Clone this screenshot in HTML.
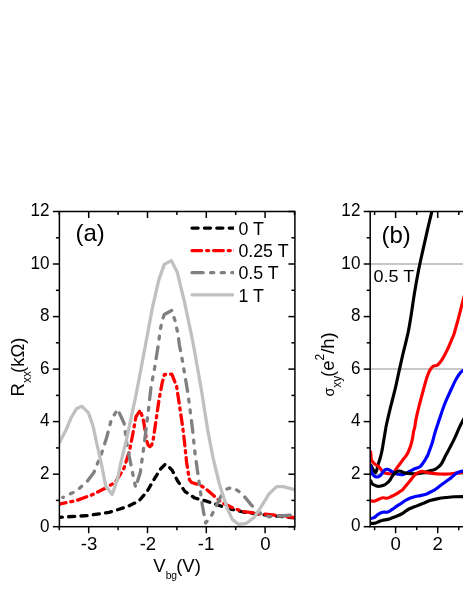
<!DOCTYPE html>
<html><head><meta charset="utf-8"><title>fig</title>
<style>html,body{margin:0;padding:0;background:#fff;}body{width:463px;height:599px;overflow:hidden;position:relative;font-family:"Liberation Sans",sans-serif;}</style></head>
<body>
<svg width="463" height="599" viewBox="0 0 463 599" style="position:absolute;left:0;top:0;will-change:transform">
<rect width="463" height="599" fill="#fff"/>
<clipPath id="ca"><rect x="59.4" y="211.5" width="235.49999999999997" height="315.20000000000005"/></clipPath>
<g clip-path="url(#ca)" fill="none" stroke-linejoin="round" stroke-linecap="round" stroke-width="3.3">
<path d="M59.4,517.3L87.4,515.6L109.0,512.4L126.3,507.0L138.6,501.3L147.0,491.6L154.5,478.6L160.2,469.4L164.8,464.7L166.5,464.4L172.1,470.2L177.5,480.8L185.1,491.6L194.8,498.0L203.4,500.2L216.4,504.5L229.4,508.8L243.2,512.0L260.5,514.5L275.6,516.0L295.2,518.0" stroke="#000" stroke-dasharray="6.1 6.3" stroke-dashoffset="3.2"/>
<path d="M56.5,504.7L59.4,504.1L76.6,500.5L91.7,495.0L104.7,488.6L115.5,482.1L124.1,468.0L129.5,450.8L133.0,433.0L136.0,416.7L140.3,410.2L143.6,421.0L146.6,440.5L148.2,445.2L150.0,446.6L151.7,445.0L153.2,439.5L155.5,424.2L158.9,400.5L162.1,383.2L164.3,374.6L171.8,374.1L176.6,386.4L179.4,404.8L182.6,426.4L184.3,440.0L186.6,462.4L189.4,479.7L191.6,482.5L200.2,485.1L207.8,490.5L216.4,498.0L221.6,502.4L232.4,507.8L243.2,511.6L260.5,513.8L275.6,515.3L295.2,517.7" stroke="#ff0000" stroke-dasharray="9.7 4.9 2.1 4.9"/>
<path d="M62.8,497.4L76.6,491.0L87.4,481.0L93.9,472.4L101.4,454.0L106.8,437.0L111.2,420.0L117.6,409.2L124.1,423.2L127.4,447.0L131.7,468.6L135.6,487.4L140.3,472.4L143.6,448.6L147.9,414.6L151.1,386.5L154.6,368.0L158.6,343.0L160.0,331.4L162.1,320.6L164.3,314.5L171.8,310.4L175.0,320.6L177.9,333.6L179.4,345.0L182.6,361.6L188.0,394.0L192.6,430.0L194.8,451.6L198.7,479.7L202.4,505.6L205.6,523.0L211.0,516.4L216.4,505.6L220.5,497.0L225.9,489.4L232.4,487.2L242.1,493.7L251.8,505.6L260.5,513.2L269.1,516.8L279.9,516.0L295.2,514.6" stroke="#808080" stroke-dasharray="12 7.8 3 7.8 3 7.8" stroke-dashoffset="11.4"/>
<path d="M59.4,442.6L66.0,430.0L71.0,418.0L76.6,408.5L82.0,406.3L88.5,412.8L93.0,426.0L96.0,440.0L101.0,462.0L105.8,486.4L112.2,494.4L117.6,478.9L121.0,462.0L126.4,440.0L136.2,394.0L145.5,345.0L152.4,307.6L158.9,279.6L164.3,264.4L171.2,260.6L177.2,272.0L184.8,303.3L192.9,342.0L201.0,387.5L207.7,430.0L213.1,458.1L219.4,484.0L227.0,507.8L232.4,519.6L238.9,524.4L246.4,523.3L254.0,517.5L260.5,507.8L269.1,493.7L276.7,486.6L283.2,486.6L295.2,489.8" stroke="#c0c0c0"/>
</g>
<g stroke="#000" stroke-width="1.5" fill="none" stroke-linecap="butt">
<rect x="59.4" y="211.5" width="235.49999999999997" height="315.20000000000005"/>
<path d="M52.9,526.7H59.4"/>
<path d="M288.4,526.7H294.9"/>
<path d="M55.9,500.4H59.4"/>
<path d="M291.4,500.4H294.9"/>
<path d="M52.9,474.2H59.4"/>
<path d="M288.4,474.2H294.9"/>
<path d="M55.9,447.9H59.4"/>
<path d="M291.4,447.9H294.9"/>
<path d="M52.9,421.6H59.4"/>
<path d="M288.4,421.6H294.9"/>
<path d="M55.9,395.4H59.4"/>
<path d="M291.4,395.4H294.9"/>
<path d="M52.9,369.1H59.4"/>
<path d="M288.4,369.1H294.9"/>
<path d="M55.9,342.8H59.4"/>
<path d="M291.4,342.8H294.9"/>
<path d="M52.9,316.6H59.4"/>
<path d="M288.4,316.6H294.9"/>
<path d="M55.9,290.3H59.4"/>
<path d="M291.4,290.3H294.9"/>
<path d="M52.9,264.0H59.4"/>
<path d="M288.4,264.0H294.9"/>
<path d="M55.9,237.8H59.4"/>
<path d="M291.4,237.8H294.9"/>
<path d="M52.9,211.5H59.4"/>
<path d="M288.4,211.5H294.9"/>
<path d="M59.3,526.7v3.5"/>
<path d="M59.3,211.5v3.5"/>
<path d="M88.7,526.7v6.5"/>
<path d="M88.7,211.5v6.5"/>
<path d="M118.1,526.7v3.5"/>
<path d="M118.1,211.5v3.5"/>
<path d="M147.5,526.7v6.5"/>
<path d="M147.5,211.5v6.5"/>
<path d="M176.9,526.7v3.5"/>
<path d="M176.9,211.5v3.5"/>
<path d="M206.3,526.7v6.5"/>
<path d="M206.3,211.5v6.5"/>
<path d="M235.7,526.7v3.5"/>
<path d="M235.7,211.5v3.5"/>
<path d="M265.1,526.7v6.5"/>
<path d="M265.1,211.5v6.5"/>
<path d="M294.5,526.7v3.5"/>
<path d="M294.5,211.5v3.5"/>
</g>
<clipPath id="cb"><rect x="370.2" y="211.5" width="100" height="315.20000000000005"/></clipPath>
<g stroke="#b4b4b4" stroke-width="1.5">
<path d="M370.2,474.2H463"/>
<path d="M370.2,369.1H463"/>
<path d="M370.2,264.0H463"/>
</g>
<g clip-path="url(#cb)" fill="none" stroke-linejoin="round" stroke-width="3.15">
<path d="M370.4,464.1C370.8,464.9 372.0,467.6 372.8,469.0C373.6,470.4 374.6,472.6 375.3,472.7C376.0,472.8 376.4,471.0 376.9,469.5C377.4,468.0 377.9,465.2 378.4,463.6C378.8,462.0 379.2,461.4 379.6,460.0C380.0,458.6 380.6,456.8 381.0,455.0C381.4,453.2 381.6,452.9 382.2,449.4C382.8,445.9 384.1,438.2 384.8,433.9C385.6,429.6 385.8,427.6 386.7,423.5C387.6,419.4 389.0,413.4 390.0,409.3C391.0,405.2 391.6,403.0 392.6,399.0C393.6,395.0 394.9,390.2 396.0,385.3C397.1,380.4 398.2,374.9 399.4,369.7C400.5,364.5 401.8,359.1 402.9,354.2C404.0,349.3 405.4,344.4 406.3,340.4C407.2,336.4 407.8,334.5 408.6,330.0C409.5,325.5 410.4,319.8 411.4,313.4C412.4,307.0 413.5,298.9 414.7,291.7C415.9,284.5 417.2,277.2 418.6,270.0C420.0,262.8 421.8,255.2 423.3,248.3C424.8,241.4 426.3,234.8 427.7,228.8C429.1,222.9 430.7,216.4 431.6,212.6C432.5,208.8 432.8,207.1 433.0,206.0" stroke="#000"/>
<path d="M370.4,450.7C370.5,451.4 370.7,453.4 370.9,455.0C371.1,456.6 370.8,458.7 371.5,460.2C372.2,461.7 373.6,463.0 374.9,464.1C376.2,465.2 378.0,466.0 379.2,467.1C380.4,468.2 380.9,469.7 381.8,470.6C382.7,471.5 383.4,472.2 384.4,472.7C385.4,473.2 386.8,473.5 387.9,473.6C389.0,473.8 390.1,474.0 391.3,473.6C392.5,473.2 393.7,472.2 394.8,471.0C395.9,469.8 396.9,468.0 398.2,466.2C399.5,464.4 401.3,461.9 402.6,460.2C403.9,458.5 405.1,457.3 406.0,455.9C406.9,454.5 407.4,453.8 408.2,452.0C409.0,450.2 410.2,447.4 410.9,445.0C411.6,442.6 412.2,440.1 412.6,437.8C413.1,435.5 413.2,433.0 413.6,431.3C414.0,429.6 414.3,429.6 414.7,427.4C415.1,425.2 415.5,421.5 416.2,418.3C416.9,415.1 417.8,411.4 418.6,408.0C419.4,404.6 420.3,401.3 421.2,398.0C422.1,394.7 422.8,391.9 423.8,388.3C424.8,384.8 426.1,379.6 427.1,376.7C428.1,373.8 428.7,372.3 429.7,370.6C430.7,368.9 431.8,367.2 433.1,366.3C434.4,365.4 436.0,366.1 437.4,365.1C438.8,364.1 440.1,362.6 441.7,360.2C443.3,357.8 445.2,354.3 446.9,350.7C448.6,347.1 451.0,341.2 452.1,338.6C453.2,336.0 452.7,338.1 453.7,335.0C454.7,331.9 456.4,325.7 458.0,319.9C459.6,314.1 461.7,305.4 463.0,300.4C464.3,295.4 465.5,291.7 466.0,290.0" stroke="#f00"/>
<path d="M370.4,464.9C370.6,466.1 370.9,470.5 371.5,472.3C372.1,474.1 373.1,474.9 374.0,475.7C374.9,476.5 375.6,477.0 376.6,477.0C377.6,477.0 379.1,476.5 380.1,475.7C381.1,474.9 381.8,473.3 382.7,472.3C383.6,471.3 384.5,470.2 385.3,469.7C386.1,469.2 386.5,469.1 387.4,469.3C388.3,469.5 389.4,470.0 390.5,470.6C391.6,471.2 392.6,472.1 393.9,472.7C395.2,473.3 396.6,473.9 398.2,474.2C399.8,474.5 401.5,474.9 403.4,474.4C405.3,473.9 407.6,472.3 409.5,471.4C411.4,470.5 413.0,469.6 414.7,468.8C416.4,468.0 418.5,467.6 419.9,466.7C421.3,465.8 421.9,464.5 422.9,463.2C423.9,461.9 425.0,460.1 425.8,458.7C426.6,457.3 427.3,456.1 427.8,455.0C428.3,453.9 428.2,454.0 428.9,452.0C429.6,450.0 431.1,446.3 432.2,442.9C433.3,439.4 434.2,435.2 435.4,431.3C436.6,427.4 438.0,423.5 439.3,419.6C440.6,415.7 442.0,411.2 443.2,408.0C444.4,404.8 445.1,402.9 446.3,400.2C447.5,397.4 448.6,394.9 450.2,391.5C451.8,388.1 454.0,383.2 455.6,380.1C457.2,377.1 458.7,374.8 459.9,373.2C461.1,371.6 462.0,371.4 463.0,370.6C464.0,369.8 465.5,368.9 466.0,368.5" stroke="#00f"/>
<path d="M370.4,480.0C370.7,480.6 371.4,482.9 372.3,483.9C373.2,484.8 374.7,485.3 375.8,485.7C376.9,486.1 377.9,486.4 379.2,486.3C380.5,486.2 382.3,485.7 383.6,485.2C384.9,484.7 385.9,484.0 387.0,483.1C388.1,482.2 389.1,481.2 390.0,480.0C390.9,478.8 391.7,476.9 392.6,475.7C393.5,474.5 394.3,473.4 395.2,472.7C396.1,471.9 397.3,471.4 398.2,471.2C399.1,470.9 399.8,470.9 400.8,471.2C401.8,471.4 402.7,472.3 404.3,472.7C405.9,473.1 408.2,473.5 410.4,473.6C412.6,473.8 414.9,473.8 417.3,473.6C419.7,473.4 422.9,472.8 425.0,472.3C427.1,471.8 428.3,471.3 430.0,470.8C431.7,470.3 433.5,470.1 435.1,469.3C436.7,468.5 438.2,467.3 439.4,466.2C440.5,465.1 441.2,464.1 442.0,462.8C442.8,461.5 443.6,459.8 444.2,458.5C444.8,457.2 445.0,456.7 445.9,455.0C446.8,453.3 448.1,451.0 449.6,448.1C451.1,445.2 453.1,441.5 454.8,437.8C456.5,434.1 458.6,429.0 460.0,426.1C461.4,423.2 462.0,422.2 463.0,420.3C464.0,418.4 465.5,415.5 466.0,414.5" stroke="#000"/>
<path d="M370.4,500.8C371.1,500.9 373.2,501.4 374.5,501.2C375.8,501.0 377.0,500.1 378.4,499.5C379.8,498.9 381.3,498.0 382.7,497.8C384.1,497.6 385.6,498.4 387.0,498.2C388.4,498.0 389.7,497.2 391.3,496.5C392.9,495.8 395.0,494.8 396.5,493.9C398.0,493.0 399.3,492.1 400.4,491.3C401.5,490.5 402.2,490.1 403.0,489.3C403.8,488.5 404.1,487.8 405.2,486.5C406.3,485.2 408.2,483.2 409.5,481.6C410.8,480.0 411.9,478.3 413.0,477.0C414.1,475.7 415.4,474.4 416.4,473.6C417.4,472.8 418.0,472.5 419.0,472.1C420.0,471.7 421.4,471.4 422.5,471.4C423.6,471.4 424.6,472.0 425.9,472.3C427.2,472.6 428.8,472.8 430.2,473.0C431.6,473.2 432.9,473.4 434.6,473.6C436.3,473.8 437.9,473.9 440.3,474.0C442.7,474.1 446.3,474.1 448.9,474.0C451.5,473.9 453.4,473.4 455.8,473.1C458.2,472.8 461.3,472.5 463.0,472.3C464.7,472.1 465.5,472.1 466.0,472.0" stroke="#f00"/>
<path d="M370.4,518.5C371.0,518.4 372.7,518.3 374.0,517.6C375.3,516.9 376.9,515.1 378.4,514.2C379.8,513.3 381.1,512.7 382.7,512.3C384.3,511.9 386.3,512.5 387.9,512.0C389.5,511.5 390.8,510.3 392.2,509.4C393.6,508.5 394.9,507.5 396.5,506.4C398.1,505.3 400.1,504.1 401.7,503.0C403.3,501.9 404.4,500.8 406.4,499.8C408.4,498.8 411.3,497.7 413.6,497.0C415.9,496.3 418.1,496.1 420.4,495.6C422.7,495.1 425.8,494.2 427.2,493.8C428.6,493.4 427.4,493.6 428.5,493.0C429.6,492.4 432.0,491.6 434.0,490.3C436.0,489.1 438.4,487.0 440.5,485.5C442.6,484.0 444.5,482.6 446.3,481.3C448.1,480.0 450.1,478.6 451.5,477.5C452.9,476.4 453.9,475.3 455.0,474.4C456.1,473.5 457.1,472.9 458.4,472.3C459.7,471.7 461.7,471.3 463.0,471.0C464.3,470.7 465.5,470.4 466.0,470.3" stroke="#00f"/>
<path d="M370.4,523.3C371.1,523.3 373.4,523.6 374.9,523.3C376.4,523.0 377.9,522.0 379.2,521.5C380.5,521.0 381.2,520.6 382.7,520.2C384.1,519.9 386.2,519.8 387.9,519.4C389.6,519.0 391.3,518.2 393.0,517.6C394.7,517.0 396.6,516.2 398.2,515.5C399.8,514.8 401.4,514.0 402.6,513.3C403.8,512.6 404.5,511.9 405.6,511.2C406.8,510.4 407.7,509.6 409.5,508.8C411.3,508.0 414.0,507.0 416.3,506.1C418.6,505.2 420.8,504.3 423.1,503.4C425.4,502.5 427.4,501.4 429.9,500.6C432.4,499.8 435.4,499.1 438.1,498.6C440.8,498.1 443.6,497.8 446.3,497.5C449.0,497.2 451.6,496.9 454.4,496.8C457.2,496.7 461.1,496.6 463.0,496.6C464.9,496.6 465.5,496.6 466.0,496.6" stroke="#000"/>
</g>
<g stroke="#000" stroke-width="1.5" fill="none">
<path d="M463,211.5H370.2V526.7H463"/>
<path d="M363.7,526.7H370.2"/>
<path d="M366.7,500.4H370.2"/>
<path d="M363.7,474.2H370.2"/>
<path d="M366.7,447.9H370.2"/>
<path d="M363.7,421.6H370.2"/>
<path d="M366.7,395.4H370.2"/>
<path d="M363.7,369.1H370.2"/>
<path d="M366.7,342.8H370.2"/>
<path d="M363.7,316.6H370.2"/>
<path d="M366.7,290.3H370.2"/>
<path d="M363.7,264.0H370.2"/>
<path d="M366.7,237.8H370.2"/>
<path d="M363.7,211.5H370.2"/>
<path d="M374.6,526.7v3.5"/>
<path d="M374.6,211.5v3.5"/>
<path d="M395.6,526.7v6.5"/>
<path d="M395.6,211.5v6.5"/>
<path d="M416.7,526.7v3.5"/>
<path d="M416.7,211.5v3.5"/>
<path d="M437.7,526.7v6.5"/>
<path d="M437.7,211.5v6.5"/>
<path d="M458.8,526.7v3.5"/>
<path d="M458.8,211.5v3.5"/>
</g>
<clipPath id="cl"><rect x="188" y="220" width="46.1" height="80"/></clipPath>
<g fill="none" stroke-width="3.3" stroke-linecap="round" clip-path="url(#cl)">
<path d="M192,228.1H240" stroke="#000" stroke-dasharray="6.1 6.3"/>
<path d="M192,250.6H240" stroke="#f00" stroke-dasharray="9.7 4.9 2.1 4.9"/>
<path d="M192,272.7H240" stroke="#808080" stroke-dasharray="11.2 7.4 3.2 7.4 3.2 7.4"/>
<path d="M192,294.8H232.6" stroke="#c0c0c0"/>
</g>
<g font-family="Liberation Sans, sans-serif" fill="#000">
<text transform="translate(49.5,531.5) scale(0.92,1)" font-size="18.6" text-anchor="end">0</text>
<text transform="translate(360.4,531.3) scale(0.92,1)" font-size="18.6" text-anchor="end">0</text>
<text transform="translate(49.5,479.0) scale(0.92,1)" font-size="18.6" text-anchor="end">2</text>
<text transform="translate(360.4,478.8) scale(0.92,1)" font-size="18.6" text-anchor="end">2</text>
<text transform="translate(49.5,426.4) scale(0.92,1)" font-size="18.6" text-anchor="end">4</text>
<text transform="translate(360.4,426.2) scale(0.92,1)" font-size="18.6" text-anchor="end">4</text>
<text transform="translate(49.5,373.9) scale(0.92,1)" font-size="18.6" text-anchor="end">6</text>
<text transform="translate(360.4,373.7) scale(0.92,1)" font-size="18.6" text-anchor="end">6</text>
<text transform="translate(49.5,321.4) scale(0.92,1)" font-size="18.6" text-anchor="end">8</text>
<text transform="translate(360.4,321.2) scale(0.92,1)" font-size="18.6" text-anchor="end">8</text>
<text transform="translate(49.5,268.8) scale(0.92,1)" font-size="18.6" text-anchor="end">10</text>
<text transform="translate(360.4,268.6) scale(0.92,1)" font-size="18.6" text-anchor="end">10</text>
<text transform="translate(49.5,216.3) scale(0.92,1)" font-size="18.6" text-anchor="end">12</text>
<text transform="translate(360.4,216.1) scale(0.92,1)" font-size="18.6" text-anchor="end">12</text>
<text transform="translate(89.1,549.6) scale(1.0,1)" font-size="18.6" text-anchor="middle">-3</text>
<text transform="translate(147.9,549.6) scale(1.0,1)" font-size="18.6" text-anchor="middle">-2</text>
<text transform="translate(206.1,549.6) scale(1.0,1)" font-size="18.6" text-anchor="middle">-1</text>
<text transform="translate(265.5,549.6) scale(1.0,1)" font-size="18.6" text-anchor="middle">0</text>
<text transform="translate(395.6,549.6) scale(1.0,1)" font-size="18.6" text-anchor="middle">0</text>
<text transform="translate(437.7,549.6) scale(1.0,1)" font-size="18.6" text-anchor="middle">2</text>
<text transform="translate(238.4,234.7) scale(1.0,1)" font-size="17.8" text-anchor="start">0 T</text>
<text transform="translate(238.4,256.9) scale(1.0,1)" font-size="17.8" text-anchor="start">0.25 T</text>
<text transform="translate(238.4,279.2) scale(1.0,1)" font-size="17.8" text-anchor="start">0.5 T</text>
<text transform="translate(238.4,301.5) scale(1.0,1)" font-size="17.8" text-anchor="start">1 T</text>
<text transform="translate(75.5,240.7) scale(1.0,1)" font-size="24" text-anchor="start">(a)</text>
<text transform="translate(381.5,242.8) scale(1.0,1)" font-size="24" text-anchor="start">(b)</text>
<text transform="translate(373.5,282.2) scale(1.035,1)" font-size="17.4" text-anchor="start">0.5 T</text>
<text x="153.3" y="572.2" font-size="18.5">V<tspan font-size="10.3" dy="6.8">bg</tspan><tspan dy="-6.8" dx="-0.9">(V)</tspan></text>
<text transform="translate(23.7,396.4) rotate(-90)" font-size="18.5">R<tspan font-size="12" dy="6.8">xx</tspan><tspan dy="-6.8" dx="-2">(k&#937;)</tspan></text>
<text transform="translate(334,396.6) rotate(-90)" font-size="18.5"><tspan font-size="14.5">&#963;</tspan><tspan font-size="12" dy="6.8">xy</tspan><tspan dy="-6.8" dx="-1.3">(e</tspan><tspan font-size="12" dy="-10.2">2</tspan><tspan dy="10.2">/h)</tspan></text>
</g>
</svg>
</body></html>
